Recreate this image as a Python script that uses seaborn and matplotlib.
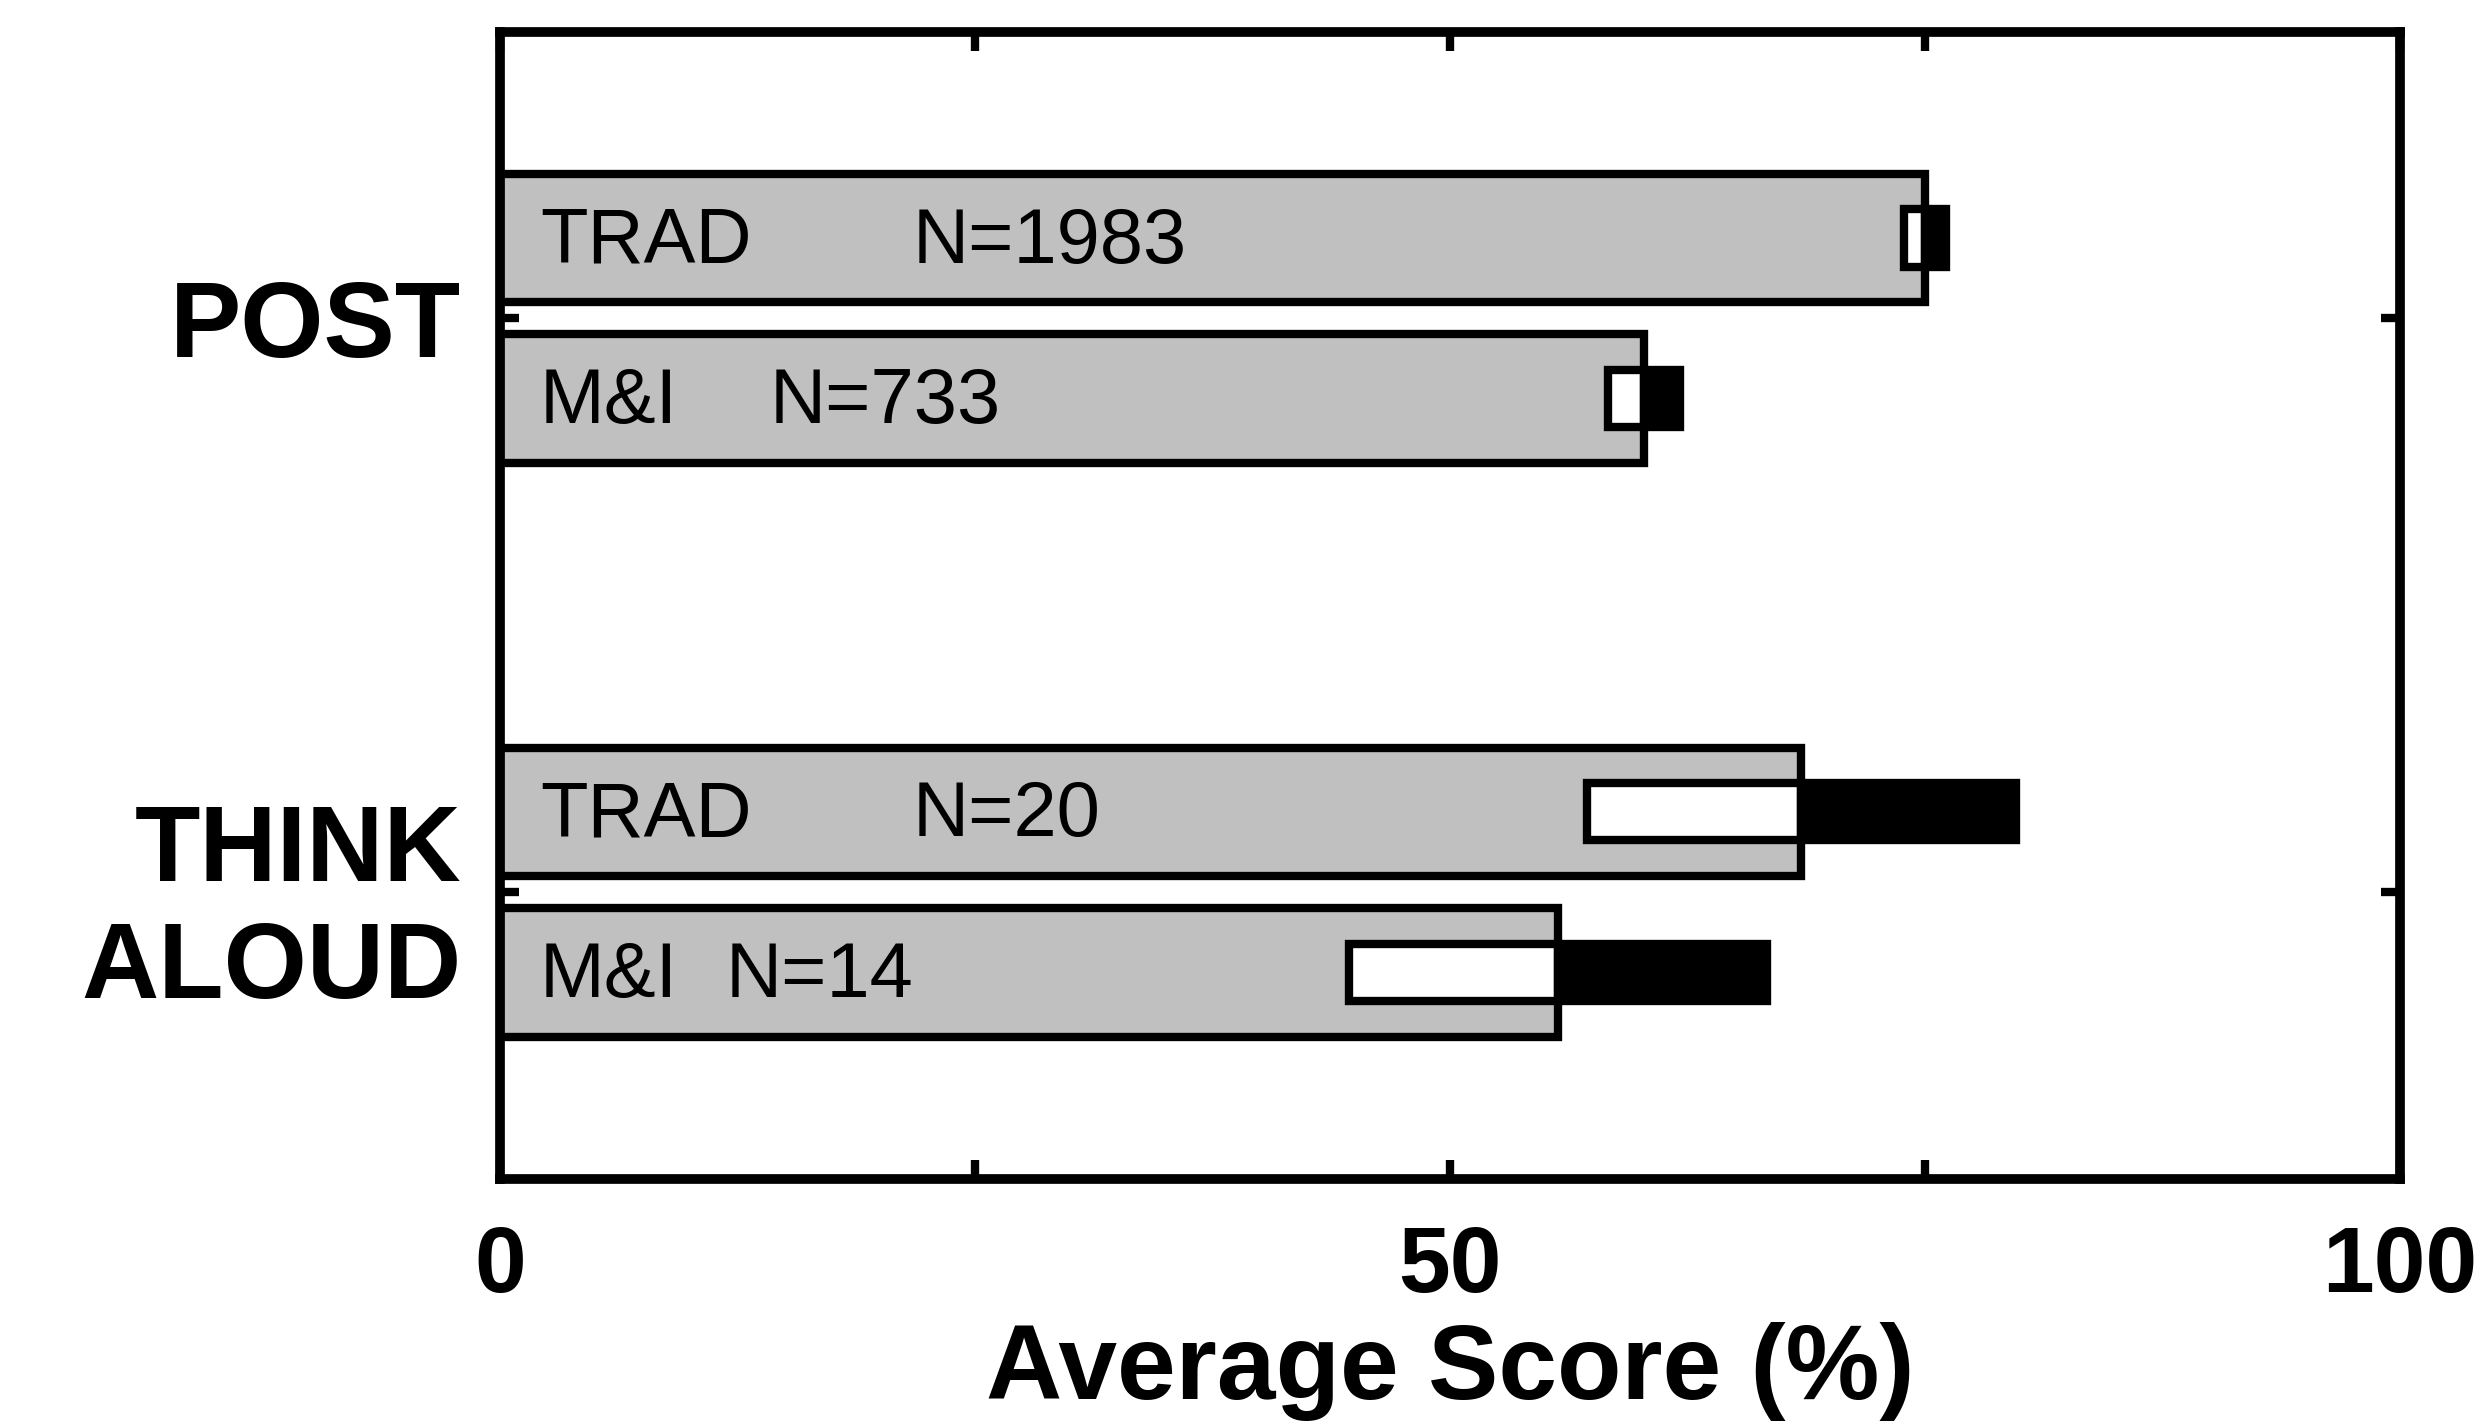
import numpy as np
import pandas as pd
import matplotlib
matplotlib.use("Agg")
import matplotlib.pyplot as plt
import seaborn as sns

# ── data ──────────────────────────────────────────────────────────────────────
TESTS   = ["POST", "POST", "THINK\nALOUD", "THINK\nALOUD"]
GROUPS  = ["TRAD", "M&I", "TRAD", "M&I"]
SCORES  = [75.0, 60.2, 68.5, 55.7]
ERRORS  = [1.1, 1.9, 11.3, 11.0]
N_TEXT  = ["N=1983", "N=733", "N=20", "N=14"]

# text placement inside the bars (x in data units)
LABEL_X = 2.1
N_X     = [21.7, 14.2, 21.7, 11.9]

# ── style ─────────────────────────────────────────────────────────────────────
sns.set_style("ticks")
plt.rcParams["font.family"] = ["Liberation Sans", "DejaVu Sans"]
plt.rcParams.update({
    "axes.linewidth": 7,
    "axes.edgecolor": "black",
    "text.color": "black",
    "axes.labelcolor": "black",
    "xtick.color": "black",
    "ytick.color": "black",
})

GREY = "#c0c0c0"
BAR_W = 0.56     # total dodge width per category
LW = 6

df = pd.DataFrame({"test": TESTS, "group": GROUPS, "score": SCORES})

fig = plt.figure(figsize=(24.89, 14.22), dpi=100)
ax = fig.add_axes([0.2009, 0.1709, 0.9642 - 0.2009, 0.9778 - 0.1709])

sns.barplot(data=df, x="score", y="test", hue="group", orient="h",
            palette={"TRAD": GREY, "M&I": GREY}, edgecolor="black",
            linewidth=LW, width=BAR_W, gap=0.2, errorbar=None,
            legend=False, ax=ax)

# error boxes: white below the mean, black above it
cats = list(dict.fromkeys(TESTS))
for test, grp, score, err, ntxt, nx in zip(TESTS, GROUPS, SCORES, ERRORS, N_TEXT, N_X):
    y = cats.index(test) + (-1 if grp == "TRAD" else 1) * BAR_W / 4
    ax.barh(y, err, left=score - err, height=0.1, color="white",
            edgecolor="black", linewidth=LW, zorder=5)
    ax.barh(y, err, left=score, height=0.1, color="black",
            edgecolor="black", linewidth=LW, zorder=6)
    for x, s in [(LABEL_X, grp), (nx, ntxt)]:
        ax.annotate(s, (x, y), xytext=(0, -3), textcoords="offset points",
                    va="center", ha="left", fontsize=56, zorder=7)

ax.set_xlim(0, 100)
ax.set_ylim(1.5, -0.5)
ax.set_xticks([0, 25, 50, 75, 100])
ax.set_xticklabels(["0", "", "50", "", "100"], fontsize=67, fontweight="bold")
ax.set_yticks([0, 1])
ax.set_yticklabels(cats, fontsize=77, fontweight="bold", linespacing=1.22)
ax.tick_params(direction="in", top=True, right=True, length=14, width=6)
ax.tick_params(axis="x", pad=33)
ax.tick_params(axis="y", pad=28)
ax.set_ylabel("")
ax.set_xlabel("Average Score (%)", fontsize=76, fontweight="bold", labelpad=8)

for s in ax.spines.values():
    s.set_visible(True)
    s.set_linewidth(7)

fig.savefig("out.png", dpi=100)
